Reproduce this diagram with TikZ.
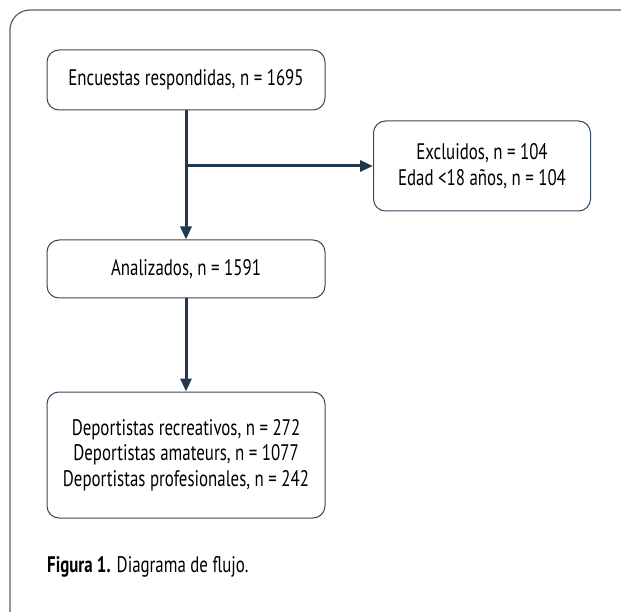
\documentclass[tikz,border=0pt]{standalone}
\usepackage{fontspec}
\setmainfont[FakeStretch=0.75]{PT Sans}
\usetikzlibrary{arrows.meta,positioning}
\definecolor{framegray}{RGB}{80,98,114}
\definecolor{boxnavy}{RGB}{52,72,92}
\definecolor{arrownavy}{RGB}{33,56,78}

\begin{document}
\begin{tikzpicture}[x=1pt, y=-1pt,
  flowbox/.style={draw=boxnavy, line width=1pt, rounded corners=12pt, align=center,
    font=\fontsize{22.5}{25.5}\selectfont, inner sep=0pt},
  flowarrow/.style={draw=arrownavy, line width=3pt, -{Triangle[width=11pt,length=13pt]}},
  flowline/.style={draw=arrownavy, line width=3pt}]
\useasboundingbox (0,0) rectangle (621,612);

% Frame
\begin{scope}
\clip (0,0) rectangle (621,612);
\draw[framegray, line width=1.2pt, rounded corners=20pt] (10,10) rectangle (650,650);
\end{scope}

% Responded
\node[flowbox, minimum width=278pt, minimum height=60pt] (resp) at (186,80) {Encuestas respondidas, n = 1695};

% Excluded
\node[flowbox, minimum width=217pt, minimum height=90pt] (excl) at (482,166) {Excluidos, n = 104\\Edad <18 años, n = 104};

% Analysed
\node[flowbox, minimum width=278pt, minimum height=58pt] (anal) at (186,269) {Analizados, n = 1591};

% Groups
\node[flowbox, minimum width=278pt, minimum height=126pt] (groups) at (186,455) {Deportistas recreativos, n = 272\\Deportistas amateurs, n = 1077\\Deportistas profesionales, n = 242};

% Caption
\node[anchor=west, inner sep=0pt, font=\fontsize{22.5}{25}\selectfont] (caption) at (47,567) {\textbf{Figura 1.} Diagrama de flujo.};

% Arrows
\coordinate (split) at (resp.south |- excl.west);
\draw[flowarrow] (resp.south) -- (anal.north);
\draw[flowarrow] (split) -- (excl.west);
\draw[flowarrow] (anal.south) -- (groups.north);
\end{tikzpicture}
\end{document}
